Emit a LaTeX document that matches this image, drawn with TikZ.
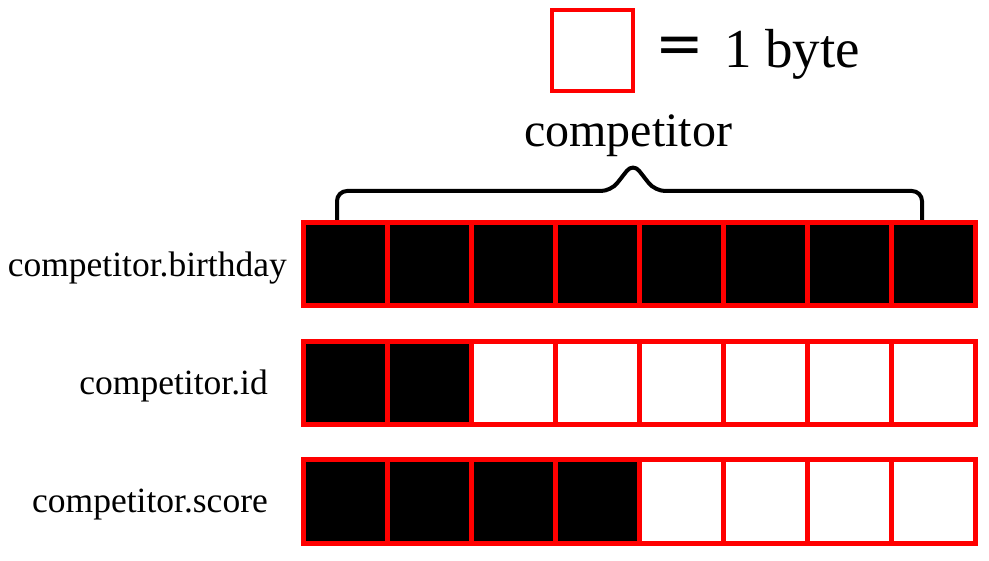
\documentclass[tikz,border=0pt]{standalone}
\usepackage{fontspec}
\setmainfont{Liberation Serif}
\newfontfamily\eqfont{DejaVu Sans}
\usepackage{tikz}
\usetikzlibrary{positioning}
\usetikzlibrary{matrix}

\tikzset{
	byte/.style={draw=red, line width=5pt, minimum width=84pt, minimum height=83pt, inner sep=0pt},
	used/.style={fill=black},
	field/.style={anchor=base east, inner sep=0pt, font=\fontsize{35.5}{40}\selectfont},
}

\begin{document}
\begin{tikzpicture}[x=1pt, y=-1pt]
				\useasboundingbox (0,0) rectangle (989,561);

				\node[draw=red, line width=4pt, minimum size=81pt, inner sep=0pt] (unit) at (592.5,50.5) {};
				\node[inner sep=0pt, font=\eqfont\fontsize{58}{60}\selectfont] (equals) at (680,50) {=};
				\node[anchor=base west, inner sep=0pt, font=\fontsize{55}{60}\selectfont] (size) at (724,68) {1 byte};

				\node[anchor=base, inner sep=0pt, font=\fontsize{48}{50}\selectfont] (whole) at (628,147) {competitor};
				\draw[line width=4pt, rounded corners=10pt] (337,221) -- (337,191) -- (611,191) -- (633,163) -- (655,191) -- (922,191) -- (922,221);

				\matrix (bytes) [
					matrix of nodes, nodes={byte}, nodes in empty cells,
					column sep=-5pt, row sep=31pt, inner sep=0pt, outer sep=0pt,
					matrix anchor=north west
				] at (301,219.5) {
					|[used]| & |[used]| & |[used]| & |[used]| & |[used]| & |[used]| & |[used]| & |[used]| \\
					|[used]| & |[used]| & & & & & & \\
					|[used]| & |[used]| & |[used]| & |[used]| & & & & \\
				};

				\node[field] (birthday) at (287,277) {competitor.birthday};
				\node[field] (id) at (268,395) {competitor.id};
				\node[field] (score) at (268,512) {competitor.score};
			\end{tikzpicture}
\end{document}
